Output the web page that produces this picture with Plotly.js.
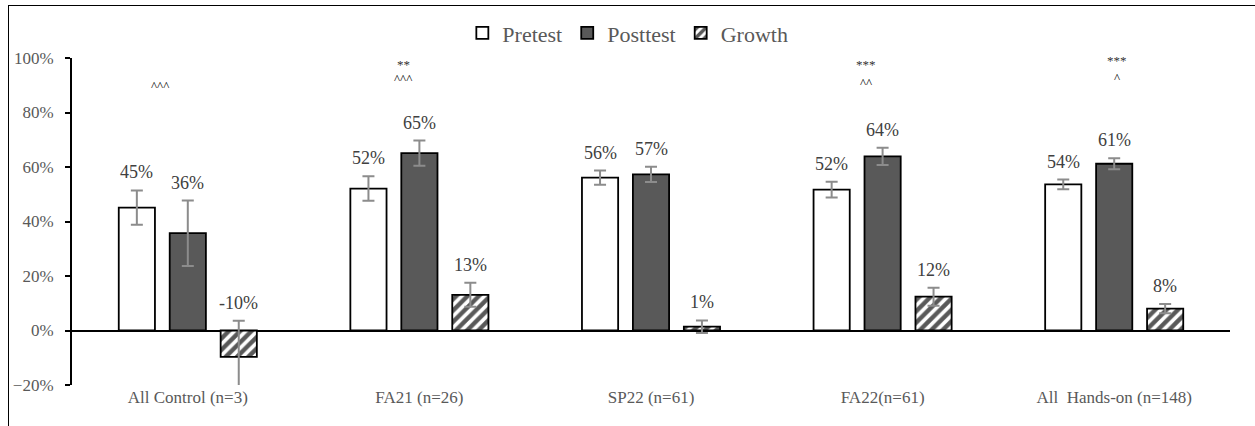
<!DOCTYPE html>
<html>
<head>
<meta charset="utf-8">
<script src="https://cdn.plot.ly/plotly-3.0.1.min.js"></script>
<style>
  html, body { margin: 0; padding: 0; background: #fff; overflow: hidden; }
  #wrap { position: relative; width: 1255px; height: 426px; overflow: hidden; }
  #chart { width: 1255px; height: 426px; }
  #frame { position: absolute; left: 8px; top: 5px; width: 1300px; height: 500px;
           border: 1.5px solid #000; pointer-events: none; box-sizing: border-box; }
</style>
</head>
<body>
<div id="wrap">
  <div id="chart"></div>
  <div id="frame"></div>
</div>
<script>
// ---- data ----
const categories = ["All Control (n=3)", "FA21 (n=26)", "SP22 (n=61)", "FA22(n=61)", "All  Hands-on (n=148)"];
const pretest  = [0.451, 0.521, 0.561, 0.517, 0.536];
const posttest = [0.357, 0.651, 0.573, 0.639, 0.612];
const growth   = [-0.097, 0.131, 0.014, 0.124, 0.080];
const pretestErr  = [0.063, 0.045, 0.026, 0.029, 0.018];
const posttestErr = [0.120, 0.046, 0.028, 0.032, 0.020];
const growthErr   = [0.133, 0.044, 0.023, 0.033, 0.017];
const sigStars  = ["", "**", "", "***", "***"];
const sigCarets = ["^^^", "^^^", "", "^^", "^"];
const seriesNames = ["Pretest", "Posttest", "Growth"];

const FONT = "Liberation Serif";
const GREY = "#595959";
const nCat = categories.length;
const idx = categories.map((_, i) => i);

const errStyle = (arr) => ({ type: "data", array: arr, visible: true, color: "#8c8c8c", thickness: 2, width: 6 });

const traces = [
  { type: "bar", name: seriesNames[0], x: idx, y: pretest, error_y: errStyle(pretestErr),
    marker: { color: "#ffffff", line: { color: "#000000", width: 1.8 } }, hoverinfo: "skip" },
  { type: "bar", name: seriesNames[1], x: idx, y: posttest, error_y: errStyle(posttestErr),
    marker: { color: GREY, line: { color: "#000000", width: 1.8 } }, hoverinfo: "skip" },
  { type: "bar", name: seriesNames[2], x: idx, y: growth, error_y: errStyle(growthErr),
    marker: { color: "#ffffff", line: { color: "#000000", width: 1.8 },
              pattern: { shape: "/", fgcolor: GREY, fgopacity: 1, bgcolor: "#ffffff", size: 8, solidity: 0.55, fillmode: "overlay" } },
    hoverinfo: "skip" }
];

// data labels (one per bar), located above the error bar
const series = [pretest, posttest, growth];
const errs = [pretestErr, posttestErr, growthErr];
const annotations = [];
const gapFrac = 0.34, groupGap = 0.29;
const slot = (1 - gapFrac) / 3;
series.forEach((vals, s) => {
  vals.forEach((v, i) => {
    annotations.push({
      x: i - (1 - gapFrac) / 2 + slot * (s + 0.5), xref: "x",
      y: v + errs[s][i], yref: "y",
      text: Math.round(v * 100) + "%",
      showarrow: false, yanchor: "bottom", yshift: 6,
      font: { family: FONT, size: 18, color: "#404040" }
    });
  });
});
// significance markers
const sigX = [-0.12, -0.07, 0, -0.07, 0.01];
const starY = 0.975, caretY = [0.898, 0.924, 0, 0.91, 0.93];
idx.forEach(i => {
  if (sigStars[i]) annotations.push({ x: i + sigX[i], y: i === 4 ? 0.99 : starY, xref: "x", yref: "y", text: sigStars[i],
    showarrow: false, font: { family: FONT, size: 13, color: "#333333" } });
  if (sigCarets[i]) annotations.push({ x: i + sigX[i], y: caretY[i], xref: "x", yref: "y", text: sigCarets[i],
    showarrow: false, font: { family: FONT, size: 13, color: "#000000" } });
});

const layout = {
  width: 1255, height: 426,
  margin: { l: 72, r: 25, t: 55, b: 41 },
  paper_bgcolor: "#ffffff", plot_bgcolor: "#ffffff",
  font: { family: FONT, color: GREY },
  barmode: "group", bargap: gapFrac, bargroupgap: groupGap,
  showlegend: true,
  legend: { orientation: "h", x: 0.48, xanchor: "center", y: 1.076, yanchor: "middle",
            font: { family: FONT, size: 22, color: GREY }, bgcolor: "rgba(0,0,0,0)",
            itemwidth: 30, traceorder: "normal" },
  xaxis: { type: "linear", range: [-0.5, nCat - 0.5], tickmode: "array", tickvals: idx, ticktext: categories,
           showline: false, showgrid: false, zeroline: false, ticks: "",
           tickfont: { family: FONT, size: 17, color: GREY }, fixedrange: true },
  yaxis: { range: [-0.2, 1.0], dtick: 0.2, tick0: 0, tickformat: ".0%",
           showline: true, linecolor: "#000000", linewidth: 2, ticks: "outside", ticklen: 5, tickwidth: 2, tickcolor: "#000000",
           showgrid: false, zeroline: true, zerolinecolor: "#000000", zerolinewidth: 2,
           ticklabelstandoff: 8,
           tickfont: { family: FONT, size: 17, color: GREY }, fixedrange: true },
  annotations: annotations
};

Plotly.newPlot("chart", traces, layout, { staticPlot: true, displayModeBar: false });
</script>
</body>
</html>
